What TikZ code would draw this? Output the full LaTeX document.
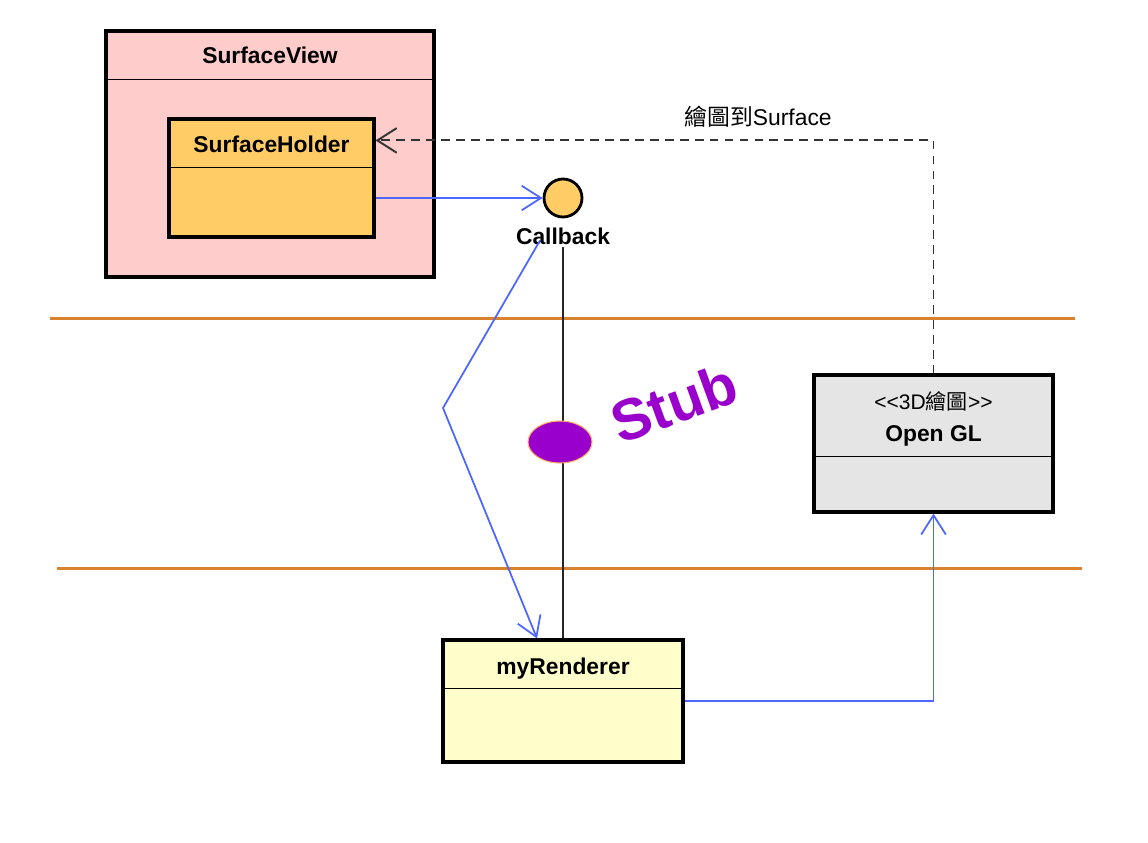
\documentclass[tikz,border=0pt]{standalone}
\usepackage{fontspec}
\setmainfont{Liberation Sans}
\newfontfamily\cjk{Noto Sans CJK TC}
\usetikzlibrary{positioning, arrows.meta, shapes.geometric}

\definecolor{viewpink}{RGB}{255,204,204}
\definecolor{holderorange}{RGB}{255,204,102}
\definecolor{rendereryellow}{RGB}{255,255,204}
\definecolor{glgray}{RGB}{229,229,229}
\definecolor{linkblue}{RGB}{77,102,255}
\definecolor{layerorange}{RGB}{217,130,45}
\definecolor{stubpurple}{RGB}{153,0,204}

\tikzset{
  classbox/.style={draw=black, line width=1.8pt, inner sep=0pt},
  classname/.style={font=\fontsize{13}{15}\selectfont\bfseries, inner sep=1pt},
  sepline/.style={line width=0.9pt},
  calllink/.style={draw=linkblue, line width=1pt, -{Straight Barb[length=11pt, width=14pt]}},
  drawlink/.style={draw=black!80, line width=1.1pt, dash pattern=on 5pt off 3.5pt, -{Straight Barb[length=11pt, width=14pt]}},
  layerline/.style={draw=layerorange, line width=1.7pt},
}

\begin{document}
\begin{tikzpicture}[x=0.02cm, y=-0.02cm]
    \useasboundingbox (0,0) rectangle (1148,842);

    % Layer borders
    \foreach \xa/\xb/\y in {50/1075/318, 57/1082/568} {
      \draw[layerline] (\xa,\y) -- (\xb,\y);
    }

    % Class boxes
    \node[classbox, fill=viewpink, minimum width=6.56cm, minimum height=4.92cm] (view) at (270,154) {};
    \node[classname] (viewtitle) at ([yshift=-0.52cm]view.north) {SurfaceView};
    \draw[sepline] ([yshift=-1cm]view.north west) -- ([yshift=-1cm]view.north east);

    \node[classbox, fill=holderorange, minimum width=4.1cm, minimum height=2.36cm] (holder) at (271.5,178) {};
    \node[classname] (holdertitle) at ([yshift=-0.54cm]holder.north) {SurfaceHolder};
    \draw[sepline] ([yshift=-1cm]holder.north west) -- ([yshift=-1cm]holder.north east);

    \node[classbox, fill=glgray, minimum width=4.78cm, minimum height=2.74cm] (opengl) at (933.5,443.5) {};
    \node[font=\fontsize{12}{14}\selectfont, inner sep=1pt] (glstereo) at ([yshift=-0.56cm]opengl.north) {{<}{<}3D{\cjk 繪圖}{>}{>}};
    \node[classname] (gltitle) at ([yshift=-1.24cm]opengl.north) {Open GL};
    \draw[sepline] ([yshift=-1.66cm]opengl.north west) -- ([yshift=-1.66cm]opengl.north east);

    \node[classbox, fill=rendereryellow, minimum width=4.8cm, minimum height=2.44cm] (renderer) at (563,701) {};
    \node[classname] (renderertitle) at ([yshift=-0.6cm]renderer.north) {myRenderer};
    \draw[sepline] ([yshift=-1cm]renderer.north west) -- ([yshift=-1cm]renderer.north east);

    % Callback interface
    \node[circle, draw=black, line width=1.6pt, fill=holderorange, minimum size=0.76cm, inner sep=0pt] (callback) at (563,198) {};
    \node[classname] (cblabel) at (563,236) {Callback};

    % Links
    \draw[calllink] (callback.west -| holder.east) -- (callback.west);
    \draw[line width=1.1pt, black!85] (cblabel.south) -- (renderer.north);
    \coordinate (bend) at (443,408);
    \draw[calllink] ([xshift=-0.46cm, yshift=0.12cm]cblabel.south) -- (bend) -- ([xshift=-0.52cm]renderer.north);
    \draw[calllink] (renderer.east) -| (opengl.south);
    \draw[drawlink] (opengl.north) |- ([yshift=-0.46cm]holder.north east);
    \node[font=\fontsize{13}{15}\selectfont, inner sep=1pt] (drawlabel) at (758,117) {{\cjk 繪圖到}Surface};

    % Stub
    \node[ellipse, draw=orange!60, fill=stubpurple, line width=0.6pt, minimum width=1.28cm, minimum height=0.84cm, inner sep=0pt] (stub) at (560,442) {};
    \node[font=\fontsize{33}{33}\selectfont\bfseries, text=stubpurple, rotate=20, inner sep=0pt] (stubtext) at (674,403) {Stub};
\end{tikzpicture}
\end{document}
